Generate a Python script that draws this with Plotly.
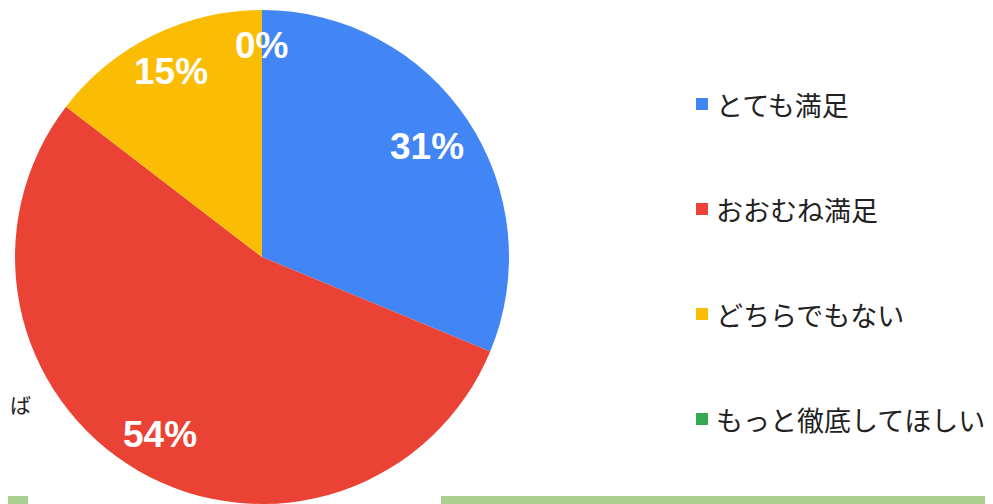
import math
import plotly.graph_objects as go

labels = ["とても満足", "おおむね満足", "どちらでもない", "もっと徹底してほしい"]
values = [30, 52, 14, 0]
colors = ["#4285F4", "#EA4335", "#FBBC04", "#34A853"]

W, H = 993, 504
cx, cy, r = 254, 249, 247  # pixel geometry of the pie inside the figure

fig = go.Figure()
fig.add_trace(go.Pie(
    labels=labels, values=values, sort=False, direction="clockwise", rotation=0,
    marker=dict(colors=colors, line=dict(width=0)),
    textinfo="none", hoverinfo="label+percent", showlegend=False,
    domain=dict(x=[(cx - r - 1) / W, (cx + r + 1) / W],
                y=[(H - cy - r) / H, (H - cy + r) / H]),
))

total = sum(values)
annotations = []
fs = 37
cum = 0.0
for i, v in enumerate(values):
    frac = v / total
    mid = (cum + frac / 2) * 2 * math.pi
    cum += frac
    txt = f"{round(frac * 100)}%"
    hw = 0.5 * fs * (0.556 * (len(txt) - 1) + 0.889)
    hh = 0.36 * fs
    rf = r * (0.845 if frac > 0 else 0.855)
    # pull the label inwards until its box sits inside the pie
    while True:
        px = cx + math.sin(mid) * rf
        py = cy - math.cos(mid) * rf
        dx = abs(px - cx) + hw
        dy = abs(py - cy) + hh
        if math.hypot(dx, dy) <= 0.96 * r or frac == 0:
            break
        rf -= 1
    annotations.append(dict(
        x=px / W, y=1 - py / H, xref="paper", yref="paper",
        text=txt, showarrow=False,
        font=dict(family="Liberation Sans, Arial", size=fs, color="white", weight="bold"),
        xanchor="center", yanchor="middle",
    ))

shapes = []
leg_y0, leg_dy = 96, 105
for i, (lab, col) in enumerate(zip(labels, colors)):
    yc = leg_y0 + i * leg_dy
    shapes.append(dict(type="rect", xref="paper", yref="paper",
                       x0=688 / W, x1=700 / W, y0=1 - (yc + 6) / H, y1=1 - (yc - 6) / H,
                       fillcolor=col, line=dict(width=0)))
    annotations.append(dict(
        x=706 / W, y=1 - yc / H, xref="paper", yref="paper", text=lab,
        showarrow=False, xanchor="left", yanchor="middle",
        font=dict(family="Noto Sans CJK JP", size=27, color="#222222"),
    ))

# partial text cut off at left edge
annotations.append(dict(x=0, y=1 - 396 / H, xref="paper", yref="paper", text="ば",
                        showarrow=False, xanchor="left", yanchor="middle",
                        font=dict(family="Noto Sans CJK JP", size=21, color="#222222")))

# green page bands at bottom
for x0, x1 in [(0, 20), (433, 993)]:
    shapes.append(dict(type="rect", xref="paper", yref="paper",
                       x0=x0 / W, x1=x1 / W, y0=8 / H, y1=16 / H,
                       fillcolor="#A9D08E", line=dict(width=0), layer="below"))

fig.update_layout(
    width=W, height=H, margin=dict(l=0, r=0, t=0, b=0),
    paper_bgcolor="white", plot_bgcolor="white",
    annotations=annotations, shapes=shapes,
)
fig.write_html("out.html")
